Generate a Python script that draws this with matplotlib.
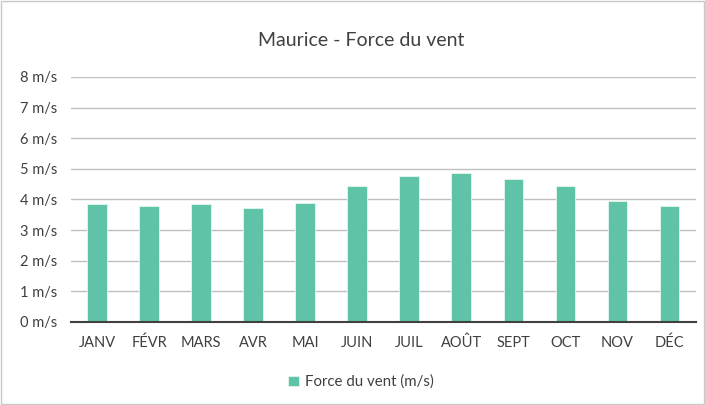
import matplotlib.pyplot as plt
from matplotlib.ticker import FuncFormatter
from matplotlib.patches import Rectangle

months = ["JANV", "FÉVR", "MARS", "AVR", "MAI", "JUIN", "JUIL", "AOÛT", "SEPT", "OCT", "NOV", "DÉC"]
wind = [3.85, 3.79, 3.85, 3.72, 3.89, 4.43, 4.75, 4.88, 4.68, 4.43, 3.94, 3.78]
series_name = "Force du vent (m/s)"
title = "Maurice - Force du vent"

plt.rcParams['font.family'] = ['Lato', 'DejaVu Sans']
fig = plt.figure(figsize=(7.05, 4.05), dpi=100)
fig.patches.append(Rectangle((0.002, 0.003), 0.996, 0.994, transform=fig.transFigure,
                             fill=False, edgecolor='#c8c8c8', linewidth=1.0))
ax = fig.add_axes([0.1007, 0.205, 0.886, 0.605])
x = range(len(months))
ax.bar(x, wind, width=0.38, color='#5fc3a8', edgecolor='#e8f6f1', linewidth=0.6,
       label=series_name, zorder=3)
ax.set_xlim(-0.5, len(months) - 0.5)
ax.set_ylim(0, 8)
ax.set_yticks(range(0, 9))
ax.yaxis.set_major_formatter(FuncFormatter(lambda v, p: f"{int(v)} m/s"))
ax.set_xticks(list(x))
ax.set_xticklabels(months)
ax.grid(axis='y', color='#bfbfbf', linewidth=1.0, zorder=0)
for s in ['top', 'right', 'left']:
    ax.spines[s].set_visible(False)
ax.spines['bottom'].set_color('#404040')
ax.spines['bottom'].set_linewidth(1.5)
ax.spines['bottom'].set_zorder(4)
ax.tick_params(axis='both', length=0, labelsize=10.5, colors='#404040')
ax.tick_params(axis='x', pad=10)
ax.tick_params(axis='y', pad=10)
fig.text(0.512, 0.9, title, ha='center', va='center', fontsize=14, color='#404040')
fig.legend(loc='center', bbox_to_anchor=(0.512, 0.057), frameon=False, fontsize=10.8,
           handlelength=0.7, handleheight=0.7, handletextpad=0.4, labelcolor='#404040')
fig.savefig('out.png', dpi=100)
